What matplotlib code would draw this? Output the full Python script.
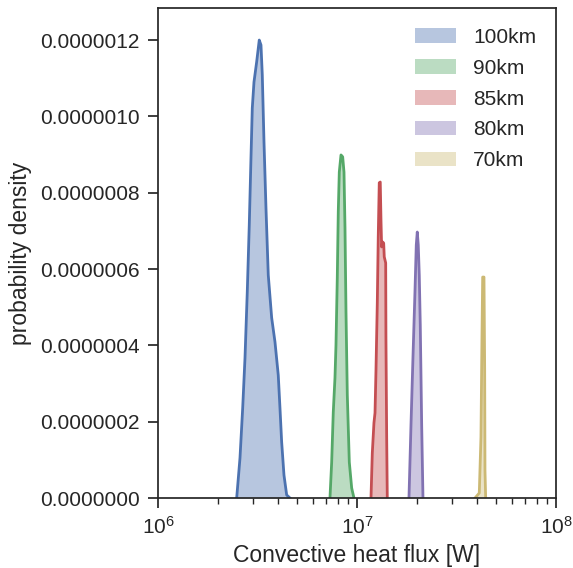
import matplotlib
matplotlib.use("Agg")
import matplotlib.pyplot as plt
from matplotlib.ticker import FormatStrFormatter, FixedLocator, LogLocator

plt.rcParams['font.family'] = ['Liberation Sans', 'DejaVu Sans']
plt.rcParams['text.color'] = '#262626'
plt.rcParams['axes.labelcolor'] = '#262626'
plt.rcParams['xtick.color'] = '#262626'
plt.rcParams['ytick.color'] = '#262626'

labels = ["100km", "90km", "85km", "80km", "70km"]
colors = ["#4C72B0", "#55A868", "#C44E52", "#8172B2", "#CCB974"]

# heat flux [W] and probability density [1/W] (x1e-6)
flux_100 = [2.486e6, 2.583e6, 2.665e6, 2.737e6, 2.810e6, 2.876e6, 2.933e6, 2.978e6,
            3.037e6, 3.133e6, 3.228e6, 3.293e6, 3.343e6, 3.410e6, 3.489e6, 3.583e6,
            3.727e6, 3.872e6, 4.022e6, 4.102e6, 4.183e6, 4.297e6, 4.433e6, 4.606e6]
dens_100 = [0.0, 0.105, 0.236, 0.367, 0.540, 0.716, 0.891, 1.022,
            1.090, 1.143, 1.200, 1.187, 1.109, 0.933, 0.760, 0.584,
            0.472, 0.409, 0.322, 0.236, 0.147, 0.060, 0.008, 0.0]

flux_90 = [7.316e6, 7.462e6, 7.601e6, 7.752e6, 7.843e6, 7.962e6, 8.054e6, 8.149e6,
           8.311e6, 8.475e6, 8.605e6, 8.705e6, 8.806e6, 8.941e6, 9.150e6, 9.406e6, 9.658e6]
dens_90 = [0.0, 0.094, 0.225, 0.315, 0.401, 0.577, 0.750, 0.854,
           0.899, 0.894, 0.854, 0.708, 0.488, 0.270, 0.094, 0.026, 0.0]

flux_85 = [1.176e7, 1.194e7, 1.217e7, 1.232e7, 1.246e7, 1.265e7, 1.279e7, 1.294e7,
           1.309e7, 1.320e7, 1.330e7, 1.346e7, 1.362e7, 1.371e7, 1.394e7, 1.398e7,
           1.410e7, 1.420e7]
dens_85 = [0.0, 0.118, 0.197, 0.223, 0.335, 0.511, 0.684, 0.826,
           0.828, 0.729, 0.658, 0.671, 0.668, 0.632, 0.616, 0.422,
           0.160, 0.0]

flux_80 = [1.825e7, 1.868e7, 1.911e7, 1.956e7, 1.986e7, 2.009e7, 2.032e7, 2.056e7,
           2.080e7, 2.114e7, 2.146e7]
dens_80 = [0.0, 0.191, 0.367, 0.540, 0.663, 0.697, 0.663, 0.584, 0.453, 0.191, 0.0]

flux_70 = [3.917e7, 4.117e7, 4.198e7, 4.247e7, 4.282e7, 4.347e7, 4.382e7, 4.397e7, 4.433e7]
dens_70 = [0.0, 0.013, 0.160, 0.422, 0.579, 0.579, 0.335, 0.073, 0.0]

series = [(flux_100, dens_100), (flux_90, dens_90), (flux_85, dens_85),
          (flux_80, dens_80), (flux_70, dens_70)]

yticks = [0.0, 0.2e-6, 0.4e-6, 0.6e-6, 0.8e-6, 1.0e-6, 1.2e-6]

fig = plt.figure(figsize=(5.73, 5.68), dpi=100)
ax = fig.add_axes([0.2757, 0.1232, 0.6946, 0.8627])

for (fx, dy), lab, col in zip(series, labels, colors):
    d = [v * 1e-6 for v in dy]
    ax.fill_between(fx, 0, d, color=col, alpha=0.4, lw=0, label=lab)
    ax.plot(fx, d, color=col, lw=2.0)

ax.set_xscale('log')
ax.set_xlim(1e6, 1e8)
ax.set_ylim(0, 1.284e-6)
ax.yaxis.set_major_locator(FixedLocator(yticks))
ax.yaxis.set_major_formatter(FormatStrFormatter('%.7f'))
ax.xaxis.set_major_locator(LogLocator(base=10))
ax.xaxis.set_minor_locator(LogLocator(base=10, subs=range(2, 10)))

for s in ax.spines.values():
    s.set_color('#262626')
    s.set_linewidth(1.25)
ax.tick_params(which='major', length=7, width=1.25, labelsize=15, pad=6)
ax.tick_params(which='minor', length=4, width=1.0)

ax.set_xlabel('Convective heat flux [W]', fontsize=16.5, labelpad=4)
ax.set_ylabel('probability density', fontsize=16.5, labelpad=6)

ax.legend(loc='upper right', frameon=False, fontsize=15, handlelength=2.0,
          handleheight=0.7, labelspacing=0.57, borderaxespad=0.55)

fig.savefig('out.png', dpi=100)
